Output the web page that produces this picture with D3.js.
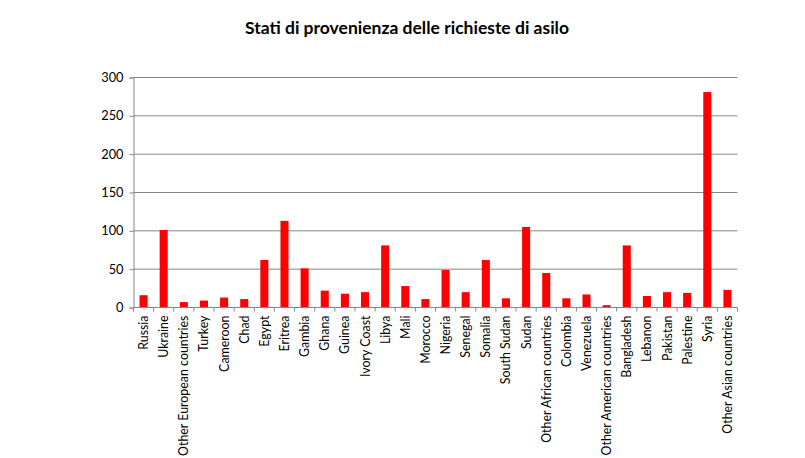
<!DOCTYPE html>
<html>
<head>
<meta charset="utf-8">
<script src="https://cdn.jsdelivr.net/npm/d3@7"></script>
<style>
  html, body { margin: 0; padding: 0; background: #fff; }
  svg { display: block; }
  text { font-family: Lato, "Open Sans", sans-serif; }
</style>
</head>
<body>
<div id="chart"></div>
<script>
const title = "Stati di provenienza delle richieste di asilo";
const categories = [
  "Russia", "Ukraine", "Other European countries", "Turkey", "Cameroon", "Chad",
  "Egypt", "Eritrea", "Gambia", "Ghana", "Guinea", "Ivory Coast", "Libya", "Mali",
  "Morocco", "Nigeria", "Senegal", "Somalia", "South Sudan", "Sudan",
  "Other African countries", "Colombia", "Venezuela", "Other American countries",
  "Bangladesh", "Lebanon", "Pakistan", "Palestine", "Syria", "Other Asian countries"
];
const values = [
  16, 101, 7, 9, 13, 11,
  62, 113, 51, 22, 18, 20, 81, 28,
  11, 49, 20, 62, 12, 105,
  45, 12, 17, 3,
  81, 15, 20, 19, 281, 23
];
const yTicks = [0, 50, 100, 150, 200, 250, 300];

const W = 805, H = 458;
const margin = { left: 133.5, right: W - 737.5, top: 77.5, bottom: H - 307.5 };
const iw = W - margin.left - margin.right;
const ih = H - margin.top - margin.bottom;

const svg = d3.select("#chart").append("svg")
  .attr("width", W).attr("height", H);

svg.append("text")
  .attr("x", 407).attr("y", 34)
  .attr("text-anchor", "middle")
  .attr("font-size", 17.5).attr("font-weight", "bold")
  .attr("fill", "#000")
  .text(title);

const g = svg.append("g").attr("transform", `translate(${margin.left},${margin.top})`);

const x = d3.scaleBand().domain(categories).range([0, iw]).paddingInner(0.6).paddingOuter(0.3);
const y = d3.scaleLinear().domain([0, 300]).range([ih, 0]);

// gridlines
g.append("g").selectAll("line").data(yTicks.filter(d => d > 0)).join("line")
  .attr("x1", 0).attr("x2", iw)
  .attr("y1", d => y(d)).attr("y2", d => y(d))
  .attr("stroke", "#868686").attr("stroke-width", 1);

// y axis
const yAxis = g.append("g").call(d3.axisLeft(y).tickValues(yTicks).tickSize(4).tickPadding(6));
yAxis.select(".domain").attr("stroke", "#868686");
yAxis.selectAll(".tick line").attr("stroke", "#868686");
yAxis.selectAll("text").attr("font-size", 12.8).attr("fill", "#000").style("font-family", "Lato, 'Open Sans', sans-serif");

// bars
g.append("g").selectAll("rect").data(categories).join("rect")
  .attr("x", d => x(d))
  .attr("width", x.bandwidth())
  .attr("y", (d, i) => y(values[i]))
  .attr("height", (d, i) => ih - y(values[i]))
  .attr("fill", "#ff0000");

// x axis
const boundaries = d3.range(categories.length + 1).map(i => i * iw / categories.length);
const xg = g.append("g").attr("transform", `translate(0,${ih})`);
xg.append("line").attr("x1", 0).attr("x2", iw).attr("stroke", "#868686");
xg.selectAll("line.tk").data(boundaries).join("line").attr("class", "tk")
  .attr("x1", d => d).attr("x2", d => d).attr("y1", 0).attr("y2", 4)
  .attr("stroke", "#868686");
xg.selectAll("text").data(categories).join("text")
  .attr("transform", d => `translate(${x(d) + x.bandwidth() / 2 + 4.5},8) rotate(-90)`)
  .attr("text-anchor", "end")
  .attr("font-size", 12.4)
  .attr("fill", "#000")
  .text(d => d);
</script>
</body>
</html>
